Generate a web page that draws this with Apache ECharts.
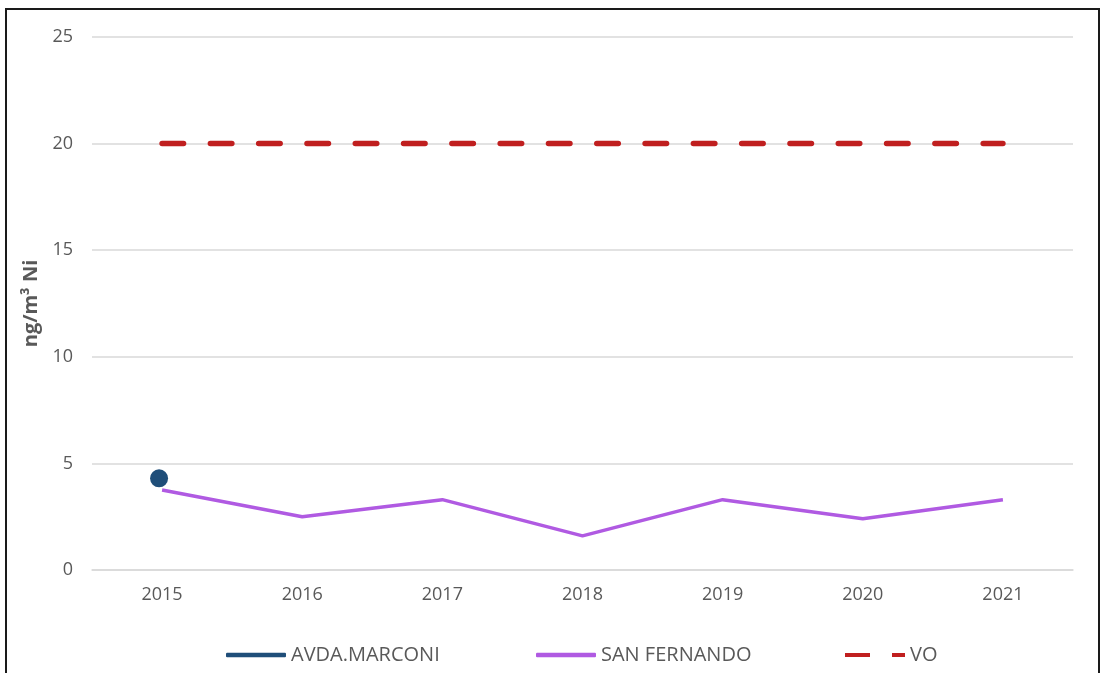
<!DOCTYPE html>
<html>
<head>
<meta charset="utf-8">
<script src="https://cdn.jsdelivr.net/npm/echarts@6/dist/echarts.min.js"></script>
<style>
html,body{margin:0;padding:0;background:#fff;overflow:hidden;}
#frame{position:absolute;left:5px;top:8px;width:1095px;height:700px;border:2px solid #1a1a1a;box-sizing:border-box;}
#chart{position:absolute;left:0;top:0;width:1102px;height:673px;}
</style>
</head>
<body>
<div id="frame"></div>
<div id="chart"></div>
<script>
const years = ['2015','2016','2017','2018','2019','2020','2021'];
const marconi = [4.3, null, null, null, null, null, null];
const sanFernando = [3.75, 2.5, 3.3, 1.6, 3.3, 2.4, 3.3];
const vo = [20, 20, 20, 20, 20, 20, 20];
const yTicks = {min: 0, max: 25, interval: 5};

const font = '"Open Sans", "Liberation Sans", sans-serif';
const legendText = {color: '#595959', fontSize: 20, fontFamily: font};
const legendCommon = {top: 645, padding: 0, itemWidth: 60, itemHeight: 4.5, textStyle: legendText};
const chart = echarts.init(document.getElementById('chart'), null, {renderer: 'canvas'});
chart.setOption({
  animation: false,
  backgroundColor: 'transparent',
  grid: {left: 92, right: 29, top: 37, bottom: 103, containLabel: false},
  legend: [
    Object.assign({left: 226, data: [{name: 'AVDA.MARCONI', icon: 'roundRect', itemStyle: {color: '#1f4e79'}}]}, legendCommon),
    Object.assign({left: 536, data: [{name: 'SAN FERNANDO', icon: 'roundRect', itemStyle: {color: '#b05ae2'}}]}, legendCommon),
    Object.assign({left: 845, data: [{name: 'VO', icon: 'path://M0,0 h25 v4 h-25 z M47,0 h13 v4 h-13 z', itemStyle: {color: '#c01f1f'}}]}, legendCommon)
  ],
  xAxis: {
    type: 'category',
    data: years,
    boundaryGap: true,
    axisLine: {lineStyle: {color: '#d9d9d9', width: 1.5}},
    axisTick: {show: false},
    axisLabel: {color: '#595959', fontSize: 18, fontFamily: font, margin: 16}
  },
  yAxis: {
    type: 'value',
    min: yTicks.min, max: yTicks.max, interval: yTicks.interval,
    name: 'ng/m³ Ni',
    nameLocation: 'middle',
    nameGap: 50,
    nameRotate: 90,
    nameTextStyle: {color: '#595959', fontSize: 20, fontWeight: 'bold', fontFamily: font},
    axisLine: {show: false},
    axisTick: {show: false},
    axisLabel: {color: '#595959', fontSize: 18, fontFamily: font, margin: 19},
    splitLine: {lineStyle: {color: '#d9d9d9', width: 1.5}}
  },
  series: [
    {
      name: 'AVDA.MARCONI',
      type: 'line',
      data: marconi,
      symbol: 'circle',
      symbolSize: 18,
      symbolOffset: [-3, 0],
      showSymbol: true,
      itemStyle: {color: '#1f4e79'},
      lineStyle: {color: '#1f4e79', width: 4}
    },
    {
      name: 'SAN FERNANDO',
      type: 'line',
      data: sanFernando,
      symbol: 'none',
      itemStyle: {color: '#b05ae2'},
      lineStyle: {color: '#b05ae2', width: 3.5}
    },
    {
      name: 'VO',
      type: 'line',
      data: vo,
      symbol: 'none',
      itemStyle: {color: '#c01f1f'},
      lineStyle: {color: '#c01f1f', width: 5.5, type: [21.5, 26.8], cap: 'round'}
    }
  ]
});
</script>
</body>
</html>
